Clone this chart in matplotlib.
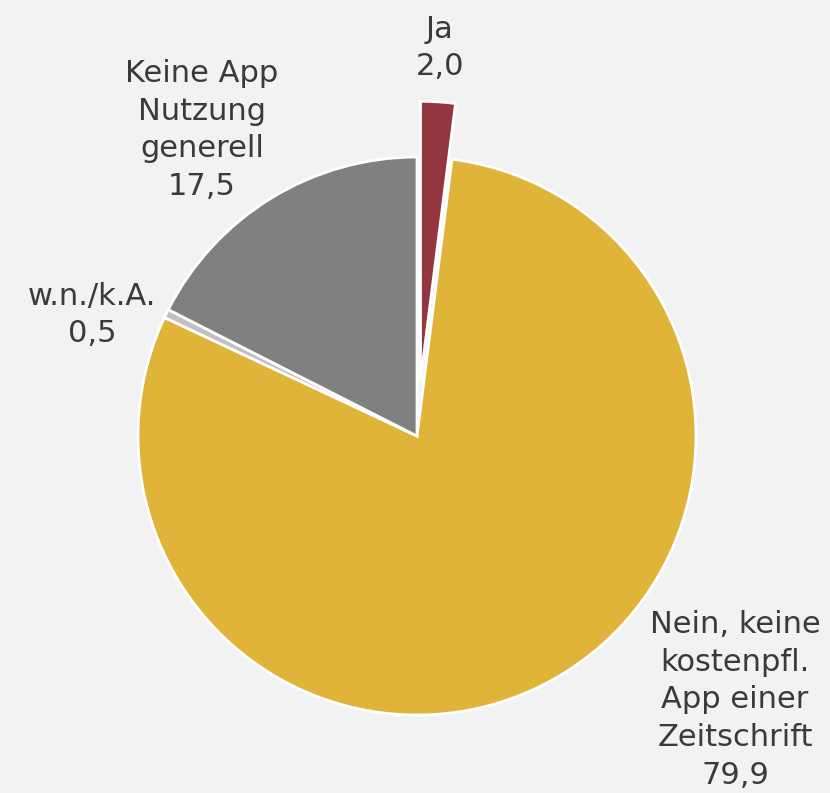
import numpy as np
import matplotlib.pyplot as plt

labels = ["Ja\n2,0", "Nein, keine\nkostenpfl.\nApp einer\nZeitschrift\n79,9",
          "w.n./k.A.\n0,5", "Keine App\nNutzung\ngenerell\n17,5"]
values = [2.0, 79.9, 0.5, 17.5]
colors = ["#943640", "#dfb439", "#c0c0c0", "#808080"]
explode = [0.2, 0, 0, 0]

# label anchor points (data units, radius = 1)
label_pos = [(0.082, 1.391), (1.14, -0.946), (-1.165, 0.434), (-0.771, 1.097)]

bg = "#f2f2f2"
fig = plt.figure(figsize=(8.3, 7.93), dpi=100, facecolor=bg)
ax = fig.add_axes([0, 0, 1, 1])
ax.set_facecolor(bg)

ax.pie(values, colors=colors, explode=explode, startangle=90, counterclock=False,
       wedgeprops=dict(edgecolor="white", linewidth=2))

for lab, (x, y) in zip(labels, label_pos):
    ax.text(x, y, lab, ha="center", va="center", fontsize=22, color="#3a3a3a",
            linespacing=1.38)

ax.set_aspect("auto")
ax.set_xlim(-417 / 279, 413 / 279)
ax.set_ylim(-357 / 279, 436 / 279)
ax.axis("off")

fig.savefig("out.png", dpi=100, facecolor=bg)
